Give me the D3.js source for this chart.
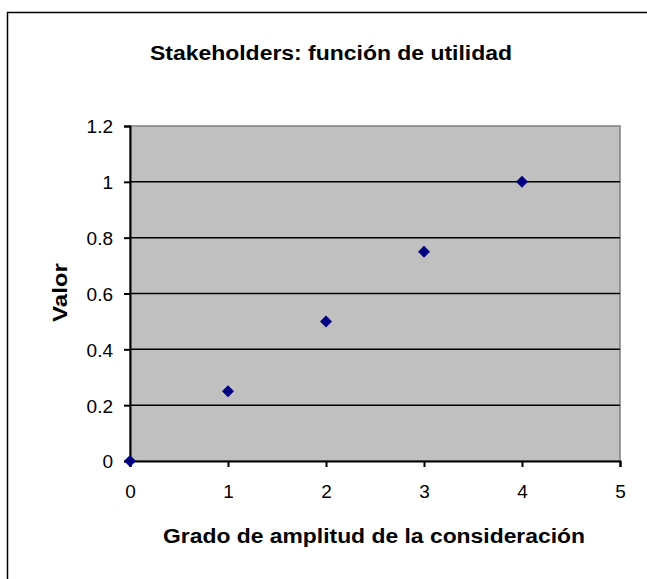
<!DOCTYPE html>
<html lang="es">
<head>
<meta charset="UTF-8">
<title>Stakeholders: función de utilidad</title>
<style>
  html, body { margin: 0; background: #fff; overflow: hidden; }
  svg { display: block; }
  svg text { font-family: "Liberation Sans", Arial, sans-serif; }
</style>
</head>
<body>
<svg width="647" height="579"></svg>
<script src="https://d3js.org/d3.v7.min.js"></script>
<script>
var grado = [0, 1, 2, 3, 4];
var valor = [0, 0.25, 0.5, 0.75, 1];
var xTicks = [0, 1, 2, 3, 4, 5];
var yTicks = [0, 0.2, 0.4, 0.6, 0.8, 1, 1.2];

var svg = d3.select("svg");

// marco exterior (sigue fuera del recorte por la derecha y abajo)
svg.append("rect")
    .attr("x", 7.5).attr("y", 12.5)
    .attr("width", 660).attr("height", 600)
    .attr("fill", "#fff").attr("stroke", "#000").attr("stroke-width", 1.5);

var pLeft = 130, pRight = 620, pTop = 126, pBottom = 461;

var x = d3.scaleLinear().domain([0, 5]).range([pLeft, pRight]);
var y = d3.scaleLinear().domain([0, 1.2]).range([pBottom, pTop]);

// area de trazado
svg.append("rect")
    .attr("x", pLeft).attr("y", pTop)
    .attr("width", pRight - pLeft).attr("height", pBottom - pTop)
    .attr("fill", "#c0c0c0").attr("stroke", "#808080").attr("stroke-width", 1.5);

// lineas de division
svg.append("g").selectAll("line")
    .data(yTicks.filter(function (d) { return d > 0 && d < 1.2; }))
    .enter().append("line")
    .attr("x1", pLeft).attr("x2", pRight)
    .attr("y1", function (d) { return y(d); })
    .attr("y2", function (d) { return y(d); })
    .attr("stroke", "#000").attr("stroke-width", 1.5);

var yAxis = svg.append("g")
    .attr("transform", "translate(" + pLeft + ",0)")
    .call(d3.axisLeft(y).tickValues(yTicks).tickSize(6).tickPadding(11)
        .tickFormat(function (d) { return String(+d.toFixed(1)); }));

var xAxis = svg.append("g")
    .attr("transform", "translate(0," + pBottom + ")")
    .call(d3.axisBottom(x).tickValues(xTicks).tickSize(6).tickPadding(18)
        .tickFormat(d3.format("d")));

[xAxis, yAxis].forEach(function (a) {
    a.select(".domain").attr("stroke", "#000").attr("stroke-width", 2);
    a.selectAll(".tick line").attr("stroke", "#000").attr("stroke-width", 2);
    a.selectAll(".tick text").attr("font-size", 19).attr("fill", "#000")
        .style("font-family", "'Liberation Sans', Arial, sans-serif");
});
yAxis.selectAll(".tick text").attr("dy", "0.36em");

// puntos
svg.append("g").selectAll("path")
    .data(grado)
    .enter().append("path")
    .attr("d", "M0,-6L6,0L0,6L-6,0Z")
    .attr("transform", function (d, i) { return "translate(" + x(d) + "," + y(valor[i]) + ")"; })
    .attr("fill", "#000080");

svg.append("text")
    .attr("x", 150).attr("y", 60)
    .attr("textLength", 362).attr("lengthAdjust", "spacingAndGlyphs")
    .attr("font-size", 20).attr("font-weight", "bold")
    .text("Stakeholders: función de utilidad");

svg.append("text")
    .attr("x", 163).attr("y", 543)
    .attr("textLength", 422).attr("lengthAdjust", "spacingAndGlyphs")
    .attr("font-size", 20).attr("font-weight", "bold")
    .text("Grado de amplitud de la consideración");

svg.append("text")
    .attr("transform", "translate(67,322) rotate(-90)")
    .attr("textLength", 59).attr("lengthAdjust", "spacingAndGlyphs")
    .attr("font-size", 20).attr("font-weight", "bold")
    .text("Valor");
</script>
</body>
</html>
